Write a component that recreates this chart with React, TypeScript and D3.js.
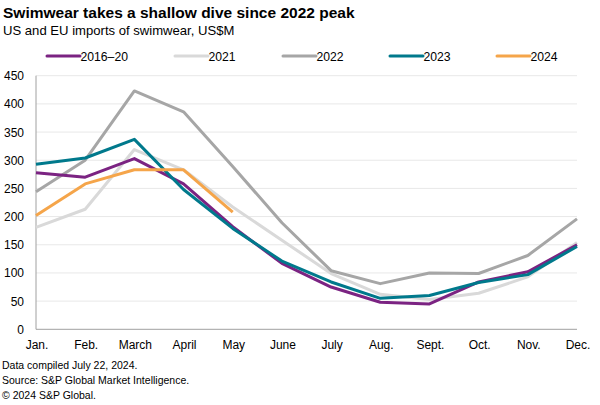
import React from "react";
import * as d3 from "d3";

const months = ["Jan.", "Feb.", "March", "April", "May", "June", "July", "Aug.", "Sept.", "Oct.", "Nov.", "Dec."];
const yTicks = [0, 50, 100, 150, 200, 250, 300, 350, 400, 450];

const s2016_20 = [278, 270, 303, 258, 182, 117, 75, 48, 45, 84, 102, 150];
const s2021 = [181, 213, 319, 283, 217, 158, 99, 62, 53, 64, 93, 154];
const s2022 = [244, 300, 423, 386, 289, 189, 104, 81, 100, 99, 131, 196];
const s2023 = [293, 304, 337, 248, 179, 121, 84, 55, 60, 83, 97, 147];
const s2024 = [202, 258, 283, 283, 208];

const seriesNames = ["2016–20", "2021", "2022", "2023", "2024"];
const seriesColors = ["#7b2382", "#d9d9d9", "#a6a6a6", "#00798c", "#f5a54a"];
const seriesData = [s2016_20, s2021, s2022, s2023, s2024];
const drawOrder = [1, 2, 0, 3, 4];
const legendX = [47, 175, 283, 390, 497];

export default function App() {
  const W = 600, H = 405;
  const x = d3.scalePoint<string>().domain(months).range([36, 577]);
  const y = d3.scaleLinear().domain([0, 450]).range([329.3, 75.7]);
  const line = d3
    .line<number>()
    .x((_, i) => x(months[i]) as number)
    .y((d) => y(d));
  const font = "Liberation Sans, Arial, sans-serif";
  return (
    <svg width={W} height={H} style={{ position: "absolute", left: 0, top: 0, background: "#fff" }} fontFamily={font}>
      <text x={3} y={18} fontSize={15.5} fontWeight="bold" fill="#000">Swimwear takes a shallow dive since 2022 peak</text>
      <text x={3} y={35} fontSize={13.1} fill="#000">US and EU imports of swimwear, US$M</text>
      {seriesNames.map((n, i) => (
        <g key={n}>
          <line x1={legendX[i]} x2={legendX[i] + 33} y1={56} y2={56} stroke={seriesColors[i]} strokeWidth={3} strokeLinecap="round" />
          <text x={legendX[i] + 33.5} y={60.5} fontSize={12.2} fill="#000">{n}</text>
        </g>
      ))}
      {yTicks.map((t) => (
        <g key={t}>
          {t > 0 && <line x1={36} x2={577} y1={y(t)} y2={y(t)} stroke="#e8e8e8" strokeWidth={1} />}
          <text x={24} y={y(t) + 4.5} fontSize={12} textAnchor="end" fill="#000">{t}</text>
        </g>
      ))}
      <line x1={36} x2={36} y1={y(450)} y2={y(0)} stroke="#a0a0a0" strokeWidth={1} />
      <line x1={36} x2={577} y1={y(0)} y2={y(0)} stroke="#a0a0a0" strokeWidth={1} />
      {months.map((m) => (
        <text key={m} x={(x(m) as number) + 1} y={349} fontSize={12} textAnchor="middle" fill="#000">{m}</text>
      ))}
      {drawOrder.map((i) => (
        <path key={i} d={line(seriesData[i]) || ""} fill="none" stroke={seriesColors[i]} strokeWidth={3} strokeLinejoin="round" />
      ))}
      <text x={2} y={369} fontSize={10.5} fill="#000">Data compiled July 22, 2024.</text>
      <text x={2} y={384} fontSize={10.5} fill="#000">Source: S&amp;P Global Market Intelligence.</text>
      <text x={2} y={399} fontSize={10.5} fill="#000">© 2024 S&amp;P Global.</text>
    </svg>
  );
}
